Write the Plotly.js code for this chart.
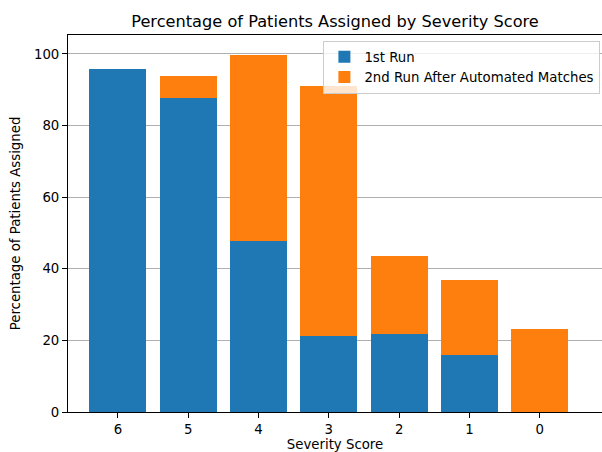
<!DOCTYPE html>
<html>
<head>
<meta charset="utf-8">
<script src="https://cdn.plot.ly/plotly-3.0.1.min.js"></script>
<style>html,body{margin:0;padding:0;background:#fff;}#chart{width:602px;height:452px;}</style>
</head>
<body>
<div id="chart"></div>
<script>
var severityScores = ["6", "5", "4", "3", "2", "1", "0"];
var firstRun = [95.7, 87.8, 47.8, 21.3, 21.9, 15.9, 0];
var secondRunTotal = [95.7, 93.9, 99.8, 91.1, 43.6, 36.9, 23.2];
var secondRunGain = secondRunTotal.map(function (t, i) { return t - firstRun[i]; });

var font = "DejaVu Sans, sans-serif";
var traces = [
  {
    type: "bar", name: "1st Run", x: severityScores, y: firstRun,
    marker: {color: "#1f77b4"}, width: 0.81, hoverinfo: "x+y"
  },
  {
    type: "bar", name: "2nd Run After Automated Matches", x: severityScores, y: secondRunGain,
    marker: {color: "#ff7f0e"}, width: 0.81, hoverinfo: "x+y"
  }
];
var layout = {
  width: 602, height: 452,
  margin: {l: 68, r: 0, t: 35, b: 40, pad: 0},
  barmode: "stack",
  paper_bgcolor: "#fff", plot_bgcolor: "#fff",
  font: {family: font, size: 13.3, color: "#000"},
  title: {text: "Percentage of Patients Assigned by Severity Score", font: {family: font, size: 16.2, color: "#000"},
          x: 0.5, xref: "paper", xanchor: "center", y: 1, yref: "paper", yanchor: "bottom", pad: {b: 8}},
  xaxis: {
    type: "category", range: [-0.71, 6.885],
    showgrid: false, showline: true, linecolor: "#000", linewidth: 1, mirror: true,
    ticks: "outside", ticklen: 5, tickcolor: "#000", tickfont: {family: font, size: 13.3, color: "#000"},
    title: {text: "Severity Score", font: {family: font, size: 13.3, color: "#000"}, standoff: 6},
    zeroline: false
  },
  yaxis: {
    range: [0, 105.3], tickvals: [0, 20, 40, 60, 80, 100],
    showgrid: true, gridcolor: "#b0b0b0", gridwidth: 1,
    showline: true, linecolor: "#000", linewidth: 1, mirror: false,
    ticks: "outside", ticklen: 5, tickcolor: "#000", tickfont: {family: font, size: 13.3, color: "#000"},
    title: {text: "Percentage of Patients Assigned", font: {family: font, size: 13.3, color: "#000"}, standoff: 10},
    zeroline: false
  },
  legend: {
    x: 0.997, xanchor: "right", y: 0.985, yanchor: "top",
    bgcolor: "rgba(255,255,255,0.8)", bordercolor: "#cccccc", borderwidth: 1,
    font: {family: font, size: 13.3, color: "#000"}, traceorder: "normal"
  },
  showlegend: true
};
Plotly.newPlot("chart", traces, layout, {displayModeBar: false, staticPlot: true});
</script>
</body>
</html>
